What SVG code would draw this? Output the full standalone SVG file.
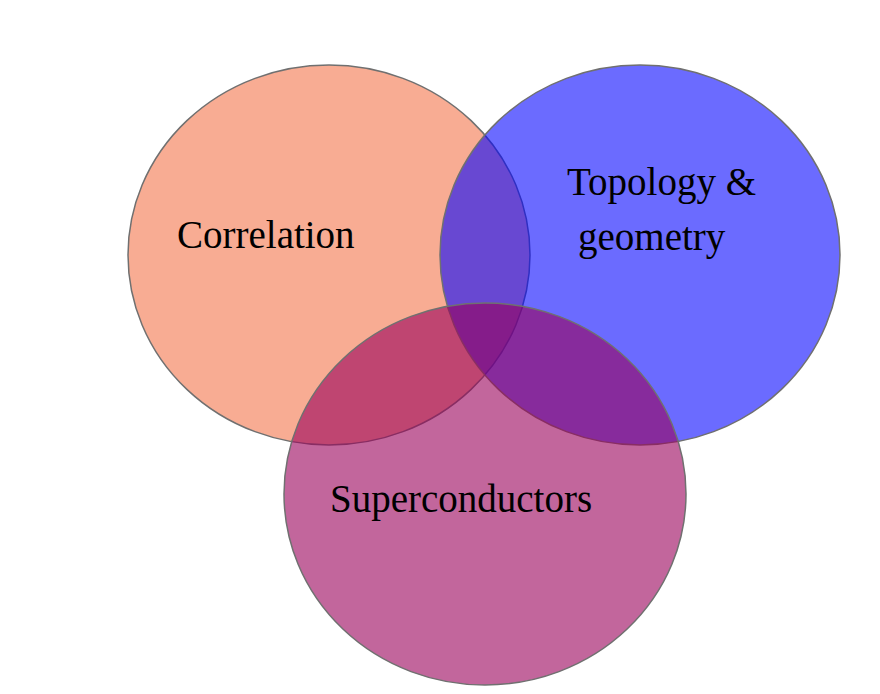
<svg xmlns="http://www.w3.org/2000/svg" width="880" height="694" viewBox="0 0 880 694">
<style>
.c{stroke:#707070;stroke-width:1.5}
text{font-family:"Liberation Serif",serif;font-size:39px;fill:#000}
</style>
<rect width="880" height="694" fill="#fff"/>
<g id="correlation"><ellipse class="c" cx="329" cy="255" rx="201" ry="190" fill="#F8AC93"/></g>
<g id="topology"><ellipse class="c" cx="640" cy="255" rx="200" ry="190" fill="#0000FF" fill-opacity="0.58"/></g>
<g id="superconductors"><ellipse class="c" cx="485" cy="494" rx="201" ry="191" fill="#99005A" fill-opacity="0.6"/></g>
<g id="labels">
<text x="177" y="248">Correlation</text>
<text x="567" y="195">Topology &amp;</text>
<text x="578" y="250">geometry</text>
<text x="330" y="512">Superconductors</text>
</g>
<g id="connectors"/>
</svg>
